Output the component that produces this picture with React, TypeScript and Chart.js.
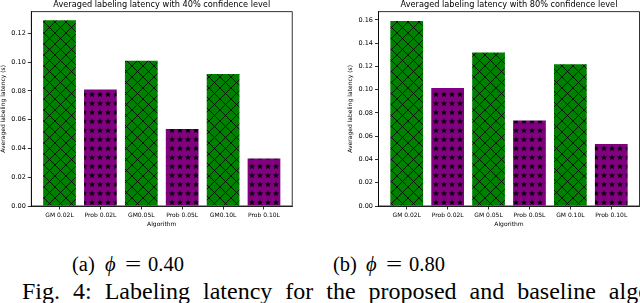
import React, { useEffect, useRef } from "react";
import { Chart, registerables } from "chart.js";
Chart.register(...registerables);

// ---- data ----
const categories40 = ["GM 0.02L", "Prob 0.02L", "GM0.05L", "Prob 0.05L", "GM0.10L", "Prob 0.10L"];
const categories80 = ["GM 0.02L", "Prob 0.02L", "GM 0.05L", "Prob 0.05L", "GM 0.10L", "Prob 0.10L"];
const latency40 = [0.129, 0.081, 0.101, 0.0535, 0.0918, 0.033];
const latency80 = [0.159, 0.1015, 0.132, 0.0735, 0.1218, 0.0533];
const yTicks40 = [0.0, 0.02, 0.04, 0.06, 0.08, 0.1, 0.12];
const yTicks80 = [0.0, 0.02, 0.04, 0.06, 0.08, 0.1, 0.12, 0.14, 0.16];
const title40 = "Averaged labeling latency with 40% confidence level";
const title80 = "Averaged labeling latency with 80% confidence level";
const yTitle = "Averaged labeling latency (s)";
const xTitle = "Algorithm";

const GREEN = "#008000";
const PURPLE = "#800080";
const FONT = "'DejaVu Sans', sans-serif";

function crossPattern(): CanvasPattern | string {
  const s = 11;
  const c = document.createElement("canvas");
  c.width = s;
  c.height = s;
  const g = c.getContext("2d");
  if (!g) return GREEN;
  g.fillStyle = GREEN;
  g.fillRect(0, 0, s, s);
  g.strokeStyle = "#000";
  g.lineWidth = 0.8;
  g.beginPath();
  g.moveTo(-1, -1);
  g.lineTo(s + 1, s + 1);
  g.moveTo(s + 1, -1);
  g.lineTo(-1, s + 1);
  g.stroke();
  return g.createPattern(c, "repeat") || GREEN;
}

function starPattern(): CanvasPattern | string {
  const w = 8;
  const h = 9;
  const c = document.createElement("canvas");
  c.width = w;
  c.height = h;
  const g = c.getContext("2d");
  if (!g) return PURPLE;
  g.fillStyle = PURPLE;
  g.fillRect(0, 0, w, h);
  g.fillStyle = "#000";
  const cx = w / 2;
  const cy = h / 2;
  const ro = 3.3;
  const ri = 1.35;
  g.beginPath();
  for (let k = 0; k < 10; k++) {
    const r = k % 2 === 0 ? ro : ri;
    const a = -Math.PI / 2 + (k * Math.PI) / 5;
    const px = cx + r * Math.cos(a);
    const py = cy + r * Math.sin(a);
    if (k === 0) g.moveTo(px, py);
    else g.lineTo(px, py);
  }
  g.closePath();
  g.fill();
  return g.createPattern(c, "repeat") || PURPLE;
}

type PanelProps = {
  left: number;
  width: number;
  height: number;
  yWidth: number;
  yTitlePad: number;
  padRight: number;
  yMax: number;
  yTicks: number[];
  categories: string[];
  values: number[];
  title: string;
};

function Panel(p: PanelProps) {
  const ref = useRef<HTMLCanvasElement>(null);
  useEffect(() => {
    if (!ref.current) return;
    const cross = crossPattern();
    const star = starPattern();
    const boxPlugin = {
      id: "boxAndTitle",
      afterDraw(chart: any) {
        const { ctx, chartArea } = chart;
        ctx.save();
        ctx.strokeStyle = "#000";
        ctx.lineWidth = 0.8;
        ctx.strokeRect(chartArea.left, chartArea.top, chartArea.right - chartArea.left, chartArea.bottom - chartArea.top);
        ctx.fillStyle = "#000";
        ctx.font = `8.2px ${FONT}`;
        ctx.textAlign = "center";
        ctx.textBaseline = "middle";
        ctx.fillText(p.title, (chartArea.left + chartArea.right) / 2, 5);
        ctx.restore();
      },
    };
    const chart = new Chart(ref.current, {
      type: "bar",
      data: {
        datasets: [
          {
            data: p.values.map((v, i) => ({ x: i, y: v })),
            backgroundColor: p.values.map((_, i) => (i % 2 === 0 ? cross : star)) as any,
            borderWidth: 0,
            barPercentage: 0.8,
            categoryPercentage: 1.0,
          },
        ],
      },
      options: {
        responsive: false,
        animation: false,
        devicePixelRatio: 1,
        layout: { padding: { top: 11.7, right: p.padRight, left: 0, bottom: 0 } },
        plugins: { legend: { display: false }, tooltip: { enabled: false }, title: { display: false } },
        scales: {
          x: {
            type: "linear",
            offset: false,
            min: -0.69,
            max: 5.69,
            afterBuildTicks: (s: any) => {
              s.ticks = p.categories.map((_, i) => ({ value: i }));
            },
            afterFit: (s: any) => {
              s.height = 29;
              s.paddingLeft = 0;
              s.paddingRight = 0;
            },
            ticks: {
              autoSkip: false,
              maxRotation: 0,
              padding: 2,
              color: "#000",
              font: { family: FONT, size: 6 },
              callback: (v: any) => p.categories[Math.round(Number(v))] ?? "",
            },
            grid: { offset: false, drawOnChartArea: false, drawTicks: true, tickLength: 3.5, color: "#000", lineWidth: 0.8 },
            border: { display: true, color: "#000", width: 0.8 },
            title: { display: true, text: xTitle, color: "#000", font: { family: FONT, size: 6 }, padding: { top: 0, bottom: 7 } },
          },
          y: {
            min: 0,
            max: p.yMax,
            afterBuildTicks: (s: any) => {
              s.ticks = p.yTicks.map((v) => ({ value: v }));
            },
            afterFit: (s: any) => {
              s.width = p.yWidth;
            },
            ticks: {
              padding: 2,
              color: "#000",
              font: { family: FONT, size: 6.5 },
              callback: (v: any) => Number(v).toFixed(2),
            },
            grid: { drawOnChartArea: false, drawTicks: true, tickLength: 3.5, color: "#000", lineWidth: 0.8 },
            border: { display: true, color: "#000", width: 0.8 },
            title: { display: true, text: yTitle, color: "#000", font: { family: FONT, size: 6 }, padding: { top: p.yTitlePad, bottom: 0 } },
          },
        },
      },
      plugins: [boxPlugin],
    } as any);
    return () => chart.destroy();
  }, []);
  return (
    <canvas
      ref={ref}
      width={p.width}
      height={p.height}
      style={{ position: "absolute", left: p.left, top: 0, width: p.width, height: p.height }}
    />
  );
}

const serif = "'Liberation Serif', 'Times New Roman', serif";

function Caption({ label, value, x }: { label: string; value: string; x: number }) {
  const base: React.CSSProperties = {
    position: "absolute",
    top: 253.5,
    fontFamily: serif,
    fontSize: 20.5,
    lineHeight: 1,
    color: "#000",
    whiteSpace: "nowrap",
  };
  return (
    <>
      <div style={{ ...base, left: x }}>{label}</div>
      <div style={{ ...base, left: x + 33, fontStyle: "italic" }}>ϕ</div>
      <div style={{ ...base, left: x + 53, transform: "scaleX(1.4)", transformOrigin: "left center" }}>=</div>
      <div style={{ ...base, left: x + 76 }}>{value}</div>
    </>
  );
}

export default function App() {
  return (
    <div
      style={{
        position: "fixed",
        left: 0,
        top: 0,
        width: 640,
        height: 303,
        overflow: "hidden",
        background: "#fff",
      }}
    >
      <Panel
        left={0}
        width={300}
        height={235}
        yWidth={31.3}
        yTitlePad={0}
        padRight={7.8}
        yMax={0.135}
        yTicks={yTicks40}
        categories={categories40}
        values={latency40}
        title={title40}
      />
      <Panel
        left={320}
        width={320}
        height={235}
        yWidth={58.5}
        yTitlePad={26.4}
        padRight={0.5}
        yMax={0.167}
        yTicks={yTicks80}
        categories={categories80}
        values={latency80}
        title={title80}
      />
      <Caption label="(a)" value="0.40" x={72} />
      <Caption label="(b)" value="0.80" x={333} />
      <div
        style={{
          position: "absolute",
          left: 22,
          top: 279,
          fontFamily: serif,
          fontSize: 24,
          lineHeight: 1,
          wordSpacing: 7,
          whiteSpace: "nowrap",
          color: "#000",
        }}
      >
        Fig. 4: Labeling latency for the proposed and baseline algorithms.
      </div>
    </div>
  );
}
